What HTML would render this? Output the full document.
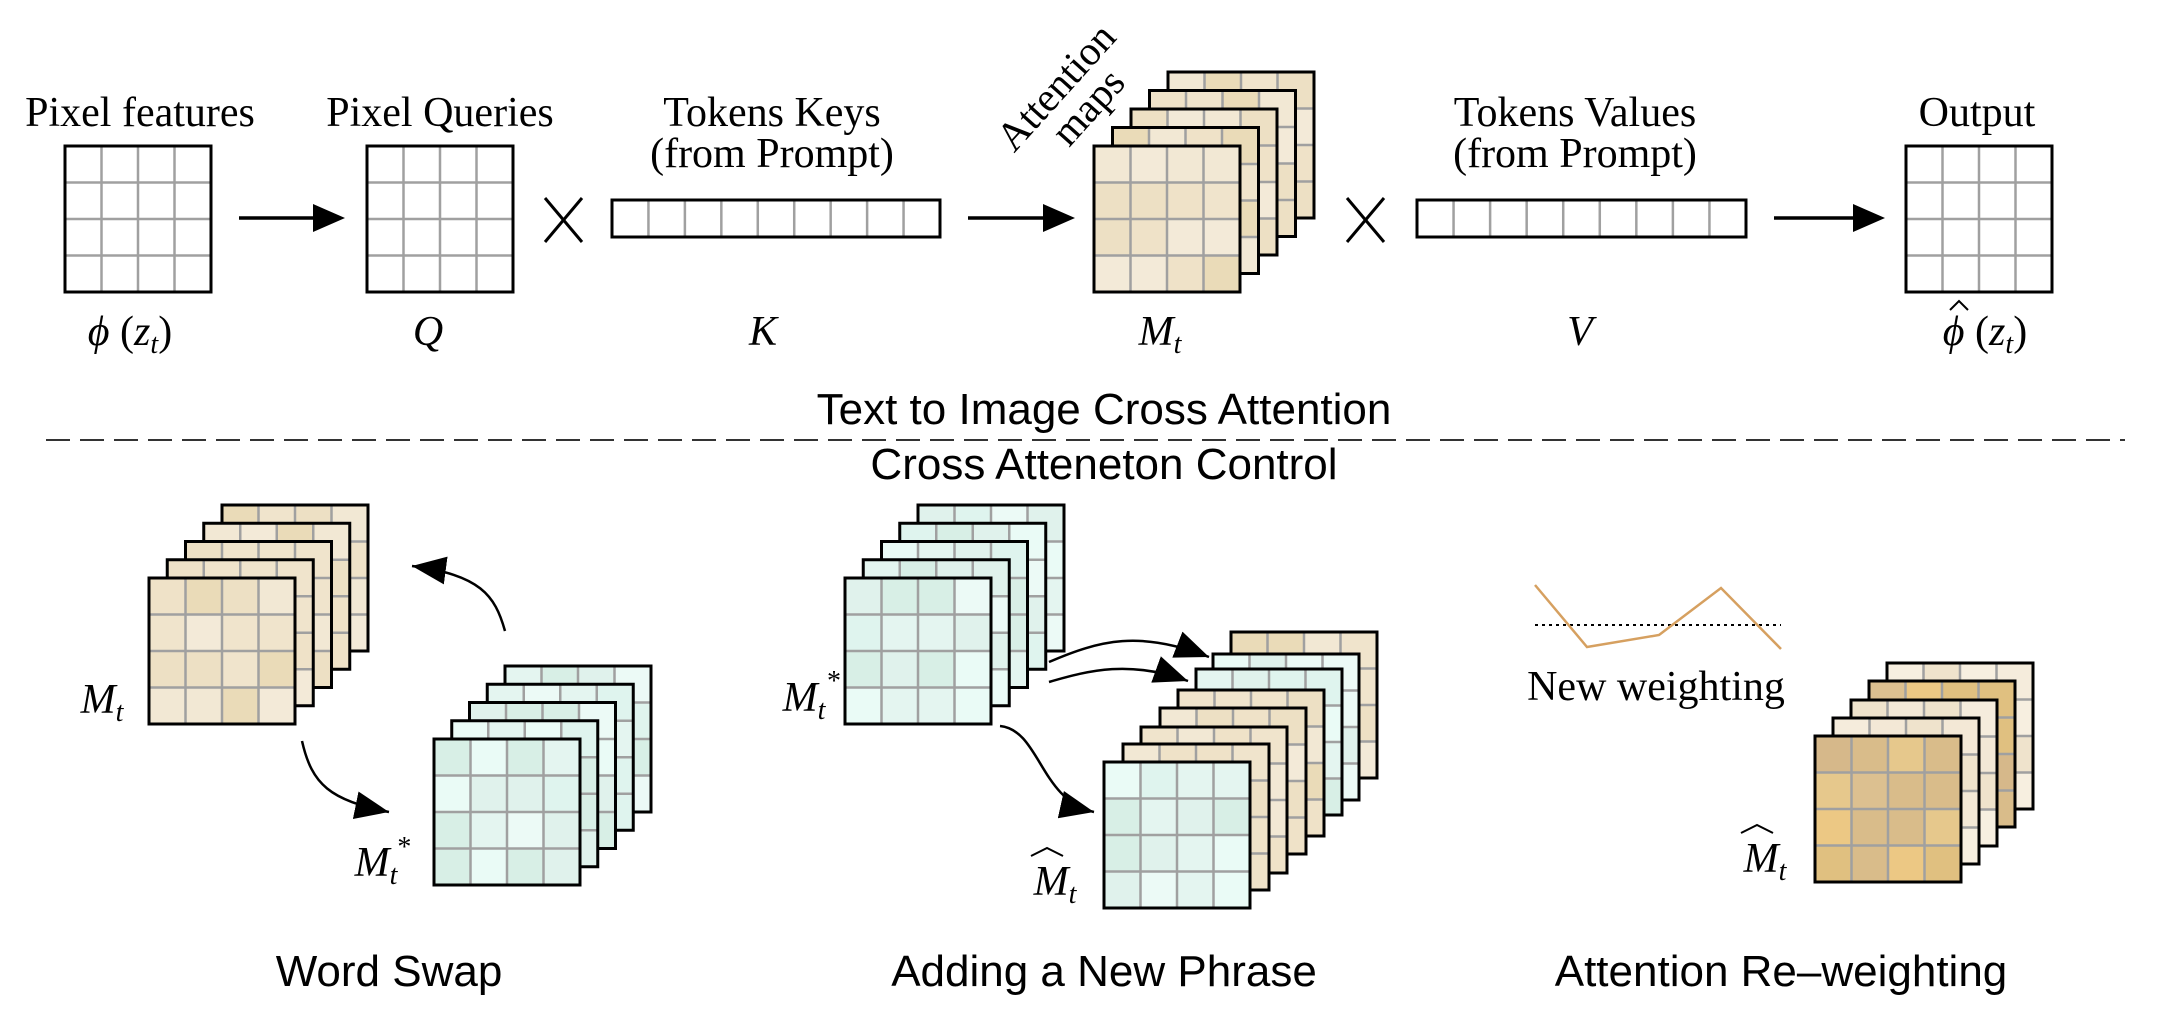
<!DOCTYPE html>
<html><head><meta charset="utf-8"><style>
html,body{margin:0;padding:0;background:#fff;}
svg{display:block;}
.s{font-family:"Liberation Serif",serif;fill:#000;}
.m{font-family:"Liberation Serif",serif;font-style:italic;fill:#000;}
.a{font-family:"Liberation Sans",sans-serif;fill:#000;}
</style></head><body>
<svg id="sv" width="2174" height="1012" viewBox="0 0 2174 1012" xmlns="http://www.w3.org/2000/svg">
<defs>
<marker id="ah" markerUnits="userSpaceOnUse" markerWidth="40" markerHeight="30" refX="34" refY="14" orient="auto">
<path d="M0,0 L34,14 L0,28 Z" fill="#000"/>
</marker>
</defs>
<g id="shapes"></g>
<g stroke="#000" stroke-width="3.5">
<line x1="239" y1="218" x2="315" y2="218"/>
<line x1="968" y1="218" x2="1045" y2="218"/>
<line x1="1774" y1="218" x2="1855" y2="218"/>
</g>
<g fill="#000">
<path d="M313,204 L345,218 L313,232 Z"/>
<path d="M1043,204 L1075,218 L1043,232 Z"/>
<path d="M1853,204 L1885,218 L1853,232 Z"/>
</g>
<g stroke="#000" stroke-width="3" fill="none">
<line x1="545" y1="198" x2="582" y2="242"/><line x1="582" y1="198" x2="545" y2="242"/>
<line x1="1347" y1="198" x2="1384" y2="242"/><line x1="1384" y1="198" x2="1347" y2="242"/>
</g>
<text class="s" x="140" y="126" font-size="42" text-anchor="middle">Pixel features</text>
<text class="s" x="440" y="126" font-size="42" text-anchor="middle">Pixel Queries</text>
<text class="s" x="772" y="126" font-size="42" text-anchor="middle">Tokens Keys</text>
<text class="s" x="772" y="167" font-size="42" text-anchor="middle">(from Prompt)</text>
<text class="s" x="1575" y="126" font-size="42" text-anchor="middle">Tokens Values</text>
<text class="s" x="1575" y="167" font-size="42" text-anchor="middle">(from Prompt)</text>
<text class="s" x="1977" y="126" font-size="42" text-anchor="middle">Output</text>
<text class="s" font-size="41" text-anchor="middle" transform="translate(1066,96) rotate(-48)">Attention</text>
<text class="s" font-size="41" text-anchor="middle" transform="translate(1098,116) rotate(-48)">maps</text>
<text class="s" x="130" y="345" font-size="42" text-anchor="middle"><tspan font-style="italic">ϕ</tspan> (<tspan font-style="italic">z</tspan><tspan font-style="italic" font-size="28" dy="8">t</tspan><tspan dy="-8">)</tspan></text>
<text class="m" x="428" y="345" font-size="42" text-anchor="middle">Q</text>
<text class="m" x="763" y="345" font-size="42" text-anchor="middle">K</text>
<text class="m" x="1160" y="345" font-size="42" text-anchor="middle">M<tspan font-size="28" dy="8">t</tspan></text>
<text class="m" x="1580" y="345" font-size="42" text-anchor="middle">V</text>
<text class="s" x="1985" y="345" font-size="42" text-anchor="middle"><tspan font-style="italic">ϕ</tspan> (<tspan font-style="italic">z</tspan><tspan font-style="italic" font-size="28" dy="8">t</tspan><tspan dy="-8">)</tspan></text>
<path d="M1950,310 L1959,301 L1968,310" stroke="#000" stroke-width="2" fill="none"/>
<text class="a" x="1104" y="424" font-size="44" text-anchor="middle">Text to Image Cross Attention</text>
<line x1="46" y1="440" x2="2125" y2="440" stroke="#333" stroke-width="2" stroke-dasharray="24,10"/>
<text class="a" x="1104" y="479" font-size="44" text-anchor="middle">Cross Atteneton Control</text>
<g stroke="#000" stroke-width="2.5" fill="none" marker-end="url(#ah)">
<path d="M505,631 C495,595 480,575 412,566"/>
<path d="M302,741 C312,785 330,800 389,812"/>
<path d="M1000,726 C1040,730 1040,800 1094,812"/>
<path d="M1049,662 C1100,640 1140,630 1209,657"/>
<path d="M1049,682 C1090,670 1130,660 1188,681"/>
</g>
<line x1="1535" y1="625" x2="1781" y2="625" stroke="#000" stroke-width="2" stroke-dasharray="3,4"/>
<polyline points="1535,585 1587,647 1659,635 1721,588 1781,649" fill="none" stroke="#d6a060" stroke-width="2.5"/>
<text class="s" x="1656" y="700" font-size="42" text-anchor="middle">New weighting</text>
<text class="m" x="102" y="713" font-size="42" text-anchor="middle">M<tspan font-size="28" dy="8">t</tspan></text>
<text class="m" x="383" y="876" font-size="42" text-anchor="middle">M<tspan font-size="28" dy="8">t</tspan><tspan font-size="28" dy="-28" font-style="normal">*</tspan></text>
<text class="m" x="804" y="711" font-size="42" text-anchor="middle">M<tspan font-size="28" dy="8">t</tspan></text>
<text class="s" x="827" y="690" font-size="28">*</text>
<text class="m" x="1055" y="895" font-size="42" text-anchor="middle">M<tspan font-size="28" dy="8">t</tspan></text>
<path d="M1031,856 L1047,848 L1063,856" stroke="#000" stroke-width="2" fill="none"/>
<text class="m" x="1765" y="872" font-size="42" text-anchor="middle">M<tspan font-size="28" dy="8">t</tspan></text>
<path d="M1741,833 L1757,825 L1773,833" stroke="#000" stroke-width="2" fill="none"/>
<text class="a" x="389" y="986" font-size="44" text-anchor="middle">Word Swap</text>
<text class="a" x="1104" y="986" font-size="44" text-anchor="middle">Adding a New Phrase</text>
<text class="a" x="1781" y="986" font-size="44" text-anchor="middle">Attention Re–weighting</text>
</svg>
<script>
var NS="http://www.w3.org/2000/svg",G=document.getElementById("shapes");
function el(t,a){var e=document.createElementNS(NS,t);for(var k in a)e.setAttribute(k,a[k]);G.appendChild(e);return e;}
var B=["#f0e4cc","#ede0c4","#f2e8d4","#eadbb8","#efe2c8","#f3ead8"];
var Gr=["#e0f2ec","#eafbf6","#d8efe6","#e4f5f0","#dff4ee","#ecfaf6"];
var T=["#e0c080","#dcc090","#d6b88a","#e6c88c","#d9bc8a","#ecc884"];
var L=["#f7efe0","#f3e8d6","#f5ecdc","#efe3cc"];
var seed=7;function rnd(){seed=(seed*9301+49297)%233280;return seed/233280;}
function box(x,y,w,h,cols,rows,pal){
 var cw=w/cols,ch=h/rows;
 if(pal){for(var r=0;r<rows;r++)for(var c=0;c<cols;c++)el("rect",{x:x+c*cw,y:y+r*ch,width:cw+0.5,height:ch+0.5,fill:pal[Math.floor(rnd()*pal.length)]});}
 else el("rect",{x:x,y:y,width:w,height:h,fill:"#fff"});
 for(var c=1;c<cols;c++)el("line",{x1:x+c*cw,y1:y,x2:x+c*cw,y2:y+h,stroke:"#a0a0a0","stroke-width":2.5});
 for(var r=1;r<rows;r++)el("line",{x1:x,y1:y+r*ch,x2:x+w,y2:y+r*ch,stroke:"#a0a0a0","stroke-width":2.5});
 el("rect",{x:x,y:y,width:w,height:h,fill:"none",stroke:"#000","stroke-width":3});
}
var S=146;
box(65,146,S,S,4,4,null);
box(367,146,S,S,4,4,null);
box(612,200,328,37,9,1,null);
box(1417,200,329,37,9,1,null);
box(1906,146,S,S,4,4,null);
function stack(fx,fy,bx,by,n,pals){
 for(var i=n-1;i>=0;i--){var t=i/(n-1);box(fx+(bx-fx)*t,fy+(by-fy)*t,S,S,4,4,pals[i]);}
}
stack(1094,146,1168,72,5,[B,B,B,B,B]);
stack(149,578,222,505,5,[B,B,B,B,B]);
stack(434,739,505,666,5,[Gr,Gr,Gr,Gr,Gr]);
stack(845,578,918,505,5,[Gr,Gr,Gr,Gr,Gr]);
var mid=[[1104,762,Gr],[1123,744,B],[1141,727,B],[1160,708,B],[1178,690,B],[1196,669,Gr],[1213,654,Gr],[1231,632,B]];
for(var i=mid.length-1;i>=0;i--)box(mid[i][0],mid[i][1],S,S,4,4,mid[i][2]);
var rw=[[1815,736,T],[1833,718,L],[1851,700,L],[1869,681,T],[1887,663,L]];
for(var i=rw.length-1;i>=0;i--)box(rw[i][0],rw[i][1],S,S,4,4,rw[i][2]);
</script>
</body></html>
